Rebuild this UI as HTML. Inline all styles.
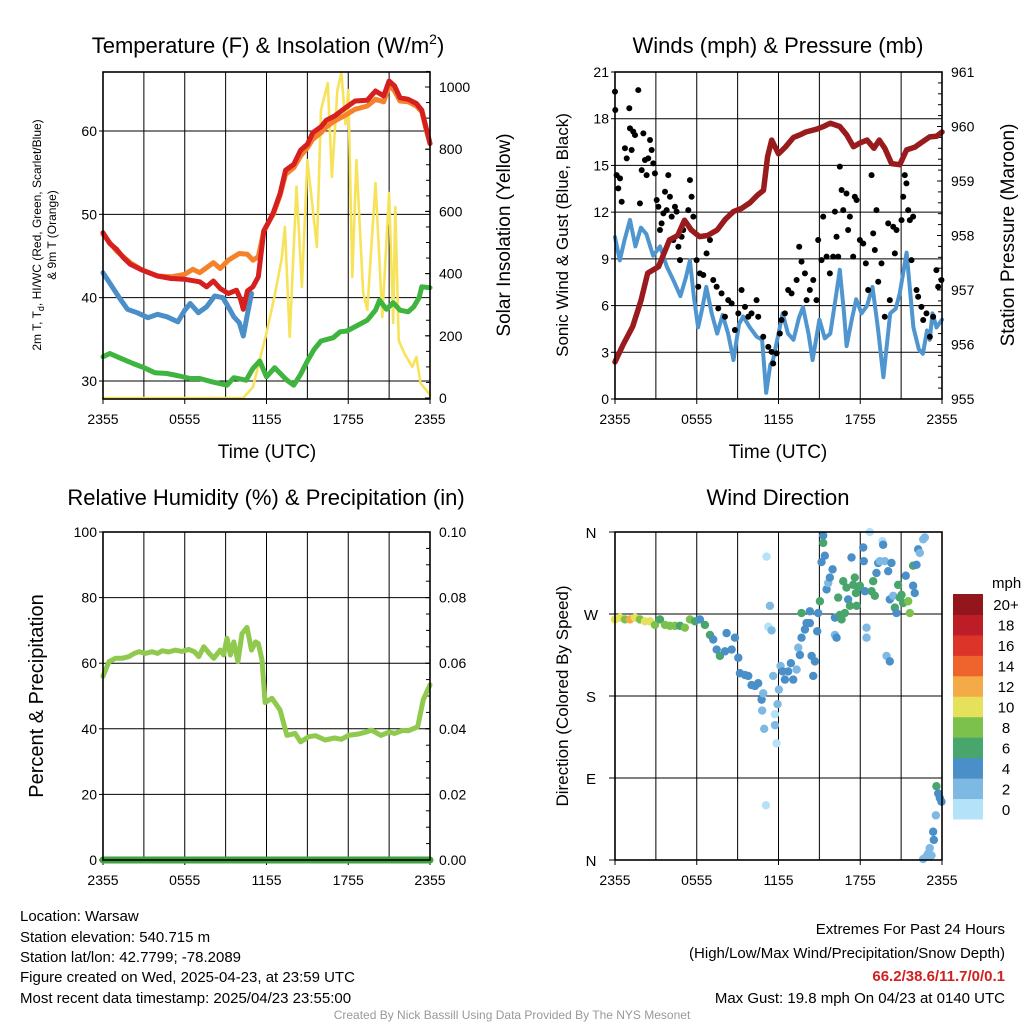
<!DOCTYPE html>
<html><head><meta charset="utf-8"><style>
html,body{margin:0;padding:0;background:#fff;}
svg{display:block;font-family:"Liberation Sans",Arial,sans-serif;}
</style></head><body>
<svg id="chart" width="1024" height="1024" viewBox="0 0 1024 1024">
<rect width="1024" height="1024" fill="#fff"/>
<g id="g"></g>
<text x="268" y="53" font-size="22" text-anchor="middle">Temperature (F) &amp; Insolation (W/m<tspan font-size="14" dy="-9">2</tspan><tspan dy="9">)</tspan></text>
<text x="778" y="53" font-size="22" text-anchor="middle">Winds (mph) &amp; Pressure (mb)</text>
<text x="266" y="505" font-size="22" text-anchor="middle">Relative Humidity (%) &amp; Precipitation (in)</text>
<text x="778" y="505" font-size="22" text-anchor="middle">Wind Direction</text>
<text transform="translate(41,235) rotate(-90)" font-size="12" text-anchor="middle">2m T, T<tspan font-size="9" dy="3">d</tspan><tspan dy="-3">, HI/WC (Red, Green, Scarlet/Blue)</tspan></text>
<text transform="translate(56,235) rotate(-90)" font-size="12" text-anchor="middle">&amp; 9m T (Orange)</text>
<text transform="translate(510,235) rotate(-90)" font-size="19" text-anchor="middle">Solar Insolation (Yellow)</text>
<text transform="translate(568,235) rotate(-90)" font-size="17" text-anchor="middle">Sonic Wind &amp; Gust (Blue, Black)</text>
<text transform="translate(1014,235) rotate(-90)" font-size="19" text-anchor="middle">Station Pressure (Maroon)</text>
<text transform="translate(43,696) rotate(-90)" font-size="20" text-anchor="middle">Percent &amp; Precipitation</text>
<text transform="translate(568,696) rotate(-90)" font-size="17" text-anchor="middle">Direction (Colored By Speed)</text>
<text x="267" y="458" font-size="19" text-anchor="middle">Time (UTC)</text>
<text x="778" y="458" font-size="19" text-anchor="middle">Time (UTC)</text>
<text x="992" y="588" font-size="15" text-anchor="start">mph</text>
<g font-size="15">
<text x="20" y="921">Location: Warsaw</text>
<text x="20" y="942">Station elevation: 540.715 m</text>
<text x="20" y="962">Station lat/lon: 42.7799; -78.2089</text>
<text x="20" y="982">Figure created on Wed, 2025-04-23, at 23:59 UTC</text>
<text x="20" y="1003">Most recent data timestamp: 2025/04/23 23:55:00</text>
</g>
<g font-size="15" text-anchor="end">
<text x="1005" y="934">Extremes For Past 24 Hours</text>
<text x="1005" y="958">(High/Low/Max Wind/Precipitation/Snow Depth)</text>
<text x="1005" y="981" fill="#d12020" font-weight="bold">66.2/38.6/11.7/0/0.1</text>
<text x="1005" y="1003">Max Gust: 19.8 mph On 04/23 at 0140 UTC</text>
</g>
<text x="512" y="1019" font-size="12" fill="#999" text-anchor="middle">Created By Nick Bassill Using Data Provided By The NYS Mesonet</text>
</svg>
<script>
// ---- Temperature panel data (hours since 2355 UTC) ----
const redT=[0,0.5,1,1.5,2,2.9,4,5,6,7.1,7.6,8.1,8.6,9.2,9.8,10.1,10.3,10.6,11,11.4,11.8,12.2,12.5,13,13.4,14,14.5,15,15.4,16,16.4,17,17.9,18.5,19.4,20,20.6,21,21.4,21.8,22.4,23,23.4,23.7,24];
const redV=[47.8,46.5,45.8,44.8,44,43.3,42.6,42.3,42.2,41.9,41.3,42.0,41.1,40.5,40.9,39.8,38.6,40.8,41.3,42.5,48,49.2,50.2,52.5,55.3,56,57.7,58.4,59.8,60.5,61.3,61.8,62.9,63.6,63.7,64.8,64.2,66,65.4,64,63.8,63.3,62.5,60.5,58.5];
const orangeT=[0,1,2,2.9,4,5,6,6.6,7.1,7.6,8.1,8.6,9.2,10,10.6,11,11.4,11.8,12.2,12.5,13,13.4,14,14.5,15,15.4,16,16.4,17,17.9,18.5,19.4,20,20.6,21,21.4,21.8,22.4,23,23.4,23.7,24];
const orangeV=[47.6,45.6,44.2,43.3,42.6,42.5,42.8,43.4,43,43.6,44.2,43.5,44.5,45.3,45.2,44.5,44.9,48,49.2,50,52.3,54.8,55.6,57,58,59,59.8,60.5,61.2,62,62.6,63,63.8,63.5,65.5,64.8,63.6,63.5,63,62.3,60.3,58.5];
const blueT=[0,0.6,1.2,1.8,2.5,3.3,4,4.7,5.5,6,6.4,7,7.6,8.2,8.8,9.3,9.6,10,10.3,10.6,10.9];
const blueV=[43,41.5,40,38.6,38.2,37.6,38,37.7,37.1,38.5,39.3,38.2,38.9,40.2,40,38.6,37.7,37,35.4,38,40.5];
const greenT=[0,0.5,1.2,2.2,3,3.8,4.7,5.6,6.4,7.1,8,9.1,9.6,10.5,11,11.5,12,12.6,13.5,14,14.5,15,15.5,16,16.9,17.4,17.9,18.6,19.4,20,20.3,20.8,21.3,21.8,22.4,22.8,23.2,23.4,24];
const greenV=[32.9,33.3,32.8,32.1,31.6,31,30.9,30.6,30.3,30.3,29.9,29.5,30.4,30.1,31.5,32.4,30.5,31.6,30.1,29.5,30.8,32.4,33.8,34.8,35.2,35.9,36,36.6,37.3,38.5,39.7,38.6,39.4,38.5,38.3,38.9,40,41.3,41.2];
const solarT=[0,10.3,11,12,12.6,13.1,13.35,13.7,14.2,14.6,15,15.7,16,16.5,16.8,17.2,17.5,17.8,18,18.3,18.6,19.1,19.4,20,20.5,21,21.3,21.45,21.7,22.1,22.7,23,23.3,24];
const solarV=[0,0,35,209,330,444,550,196,680,357,765,486,926,1013,711,990,1045,880,990,389,765,338,283,691,260,659,241,614,186,145,100,132,48,10];
// ---- Wind panel data ----
const pressT=[0,0.6,1.3,1.9,2.4,3.2,4,4.6,5.1,5.6,6.2,6.8,7.5,8.1,8.7,9.3,9.9,10.5,10.9,11.2,11.5,12,12.5,13.1,13.6,14,14.8,15.3,15.8,16.5,17,17.5,18,18.5,19,19.4,19.8,20.3,20.9,21.4,22,22.4,23.1,23.6,24];
const pressV=[955.68,956.0,956.33,956.8,957.31,957.43,957.92,958.0,958.28,958.1,957.98,958.0,958.1,958.3,958.44,958.5,958.6,958.75,958.83,959.45,959.75,959.5,959.62,959.8,959.85,959.9,959.95,960.0,960.06,960.0,959.85,959.63,959.7,959.75,959.6,959.75,959.6,959.32,959.3,959.57,959.62,959.69,959.81,959.82,959.9];
const windT=[0,0.35,0.7,1.1,1.5,1.9,2.3,2.8,3.3,3.8,4.3,4.8,5.2,5.5,5.8,6.1,6.4,6.7,7.1,7.5,7.9,8.3,8.7,9.1,9.4,9.9,10.4,10.8,11.1,11.4,11.6,12,12.3,12.7,13.1,13.5,13.8,14.2,14.5,15,15.4,15.8,16.2,16.5,16.8,17,17.4,17.7,18.1,18.5,18.9,19.3,19.7,20.2,20.6,20.9,21.4,21.9,22.3,22.6,22.9,23.1,23.3,23.6,24];
const windV=[10.4,8.9,10.2,11.5,9.8,11,10.6,9.2,9.8,8.5,7.6,6.6,7.8,8.9,6.5,4.6,5.8,7.2,5.5,4.2,5.4,4.2,2.5,4.8,5.3,4.6,4,3.8,0.4,2.2,2.5,4.2,5.5,4.2,3.8,5.2,5.9,4.2,2.5,5.1,3.9,4.2,6.5,8.3,5.6,3.4,5.2,6.4,5.5,6,7.2,4.5,1.4,5.5,5.8,6.8,9.4,4.6,3.2,2.9,4.4,3.8,5.5,4.6,5.1];
const gustT=[0,0.02,0.12,0.24,0.37,0.49,0.73,0.86,1.05,1.1,1.22,1.34,1.47,1.71,1.83,1.96,2.08,2.2,2.32,2.44,2.57,2.69,2.81,2.93,3.06,3.18,3.3,3.42,3.55,3.67,3.79,3.91,4.03,4.16,4.28,4.4,4.52,4.65,4.77,4.89,5.01,5.38,5.5,5.62,5.75,5.99,6.11,6.23,6.48,6.72,6.97,7.21,7.46,7.58,7.82,8.07,8.31,8.56,8.8,9.05,9.29,9.54,9.78,10.02,10.39,10.51,10.88,11.25,11.49,11.61,11.86,12.1,12.22,12.47,12.71,12.96,13.33,13.52,13.69,13.94,14.06,14.3,14.55,14.79,14.91,15.16,15.28,15.53,15.77,16.01,16.14,16.26,16.38,16.5,16.63,16.75,16.99,17.11,17.24,17.48,17.6,17.73,17.97,18.22,18.41,18.58,18.83,18.95,19.07,19.19,19.32,19.56,19.8,20.05,20.17,20.42,20.54,20.66,21.03,21.15,21.27,21.39,21.52,21.64,21.76,21.88,22.13,22.25,22.49,22.62,22.86,23.11,23.35,23.59,23.72,23.96];
const gustV=[19.74,18.56,14.38,13.53,14.17,12.67,16.1,15.45,18.67,17.38,15.99,17.17,16.95,19.84,12.56,14.7,17.06,15.35,14.38,15.45,16.63,15.99,15.13,14.49,12.78,12.35,10.85,11.28,11.92,13.31,12.13,14.38,12.99,11.71,10.21,12.35,12.03,9.78,8.92,10.42,10.85,12.13,14.06,12.99,11.71,8.92,7.21,8.07,7.96,9.35,10.21,7.64,7.21,5.82,6.78,5.28,6.35,6.14,4.43,5.5,7,5.92,5.28,5.5,6.35,5.28,4,3.35,3.03,2.28,2.93,4.21,5.07,5.5,7,6.78,7.64,9.78,8.82,8.07,6.35,7,7.64,6.35,10.21,8.92,11.71,9.14,8.07,9.14,12.03,10.42,9.14,14.92,13.42,12.13,13.2,10.85,11.71,9.14,12.99,12.78,10.21,9.99,8.71,7,14.38,10.64,9.57,12.13,7.53,8.71,5.28,11.28,6.35,11.06,9.35,10.85,11.49,12.99,14.38,13.85,12.13,11.49,8.92,11.71,7,6.57,5.92,5.07,5.5,4,5.28,8.28,7.21,7.64];
// ---- Humidity panel data ----
const rhT=[0,0.44,0.93,1.4,1.9,2.3,2.64,3.1,3.6,4,4.35,4.8,5.3,5.8,6.3,6.7,7.03,7.4,7.8,8.13,8.6,8.85,9.1,9.35,9.6,9.9,10.2,10.57,10.9,11.2,11.4,11.67,11.9,12.4,13,13.5,14.1,14.5,15.1,15.6,16.3,17,17.5,18,18.75,19.3,19.7,20.4,21,21.4,22,22.4,23.1,23.5,24];
const rhV=[56,60.5,61.5,61.5,62,63,63.5,63,63.5,63,63.8,63.4,64,63.6,64.2,63.5,62,65,63,61.5,64,62.5,67.6,62.5,66.5,60.5,69,70.9,64,66.5,66,61,48,49.3,45.7,38,38.6,36,37.6,37.9,36.6,37.2,36.8,38,38.4,39,39.6,38,39,38.6,39.5,39.4,40.6,48.8,53.4];
const precipT=[0,24];
const precipV=[0,0];
// ---- Wind direction data ----
const dirT=[0,0.37,0.73,1.1,1.47,1.83,2.2,2.57,2.93,3.3,3.67,4.03,4.4,4.77,5.13,5.5,5.87,6.23,6.6,6.97,7.21,7.46,7.7,8.07,8.19,8.56,8.8,9.05,9.17,9.54,9.78,10.02,10.27,10.51,10.76,10.88,10.8,10.95,11.12,11.37,11.25,11.49,11.08,11.61,11.74,11.74,11.86,11.93,12.03,12.15,12.3,12.47,12.71,12.91,13.08,13.33,13.45,13.57,13.69,13.69,13.94,14.06,14.3,14.3,14.43,14.55,14.67,14.84,14.91,15.04,15.16,15.28,15.28,15.4,15.53,15.65,15.77,15.97,16.14,16.14,16.26,16.38,16.5,16.63,16.75,16.87,16.99,17.11,17.24,17.36,17.48,17.6,17.68,17.73,17.85,17.97,18.22,18.26,18.34,18.46,18.46,18.7,18.83,18.95,19.07,19.19,19.32,19.44,19.63,19.68,19.8,19.93,20.17,20.05,20.29,20.17,20.42,20.54,20.66,20.78,20.9,21.03,21.15,21.34,21.52,21.64,21.88,22.0,21.88,22.13,22.25,22.37,22.62,22.74,23.59,23.72,23.84,23.96,23.55,23.35,23.4,23.1,22.98,22.86,22.62,23.23];
const dirV=[264,266,264,264,266,264,262,262,258,264,258,257,257,257,255,264,262,264,258,247,242,231,224,229,249,231,244,222,205,203,202,192,191,194,176,183,164,144,333,279,256,252,60,202,160,148,128,171,187,213,207,198,207,216,198,209,233,225,244,271,253,260,273,260,224,202,218,251,271,284,327,356,348,334,297,304,310,319,266,247,244,288,269,264,306,271,299,286,279,332,302,310,293,279,299,301,343,328,295,255,244,360,295,306,290,315,326,328,350,346,328,224,218,317,326,286,290,277,271,302,288,291,282,312,284,271,301,293,323,324,341,337,352,354,81,73,68,64,49,31,22,13,7,4,1,5];
const dirS=[10,10,9,12,10,9,10,10,9,7,8,8,8,7,8,8,6,5,6,6,4,4,6,4,4,4,4,4,4,4,4,4,4,4,4,2,2,2,1,2,1,2,1,2,1,2,1,2,2,2,4,4,4,4,4,2,2,4,4,6,4,4,4,4,4,4,4,4,4,6,4,4,6,4,4,2,4,4,4,2,4,6,6,6,6,6,6,4,6,4,6,6,6,6,6,6,4,4,4,2,2,1,6,6,6,4,4,2,1,4,2,2,4,4,4,4,2,6,4,6,6,6,6,4,8,8,4,4,6,4,4,2,2,2,6,4,4,4,2,4,4,2,2,2,2,2];
const speedBins=["0","2","4","6","8","10","12","14","16","18","20+"];
const speedColors=["#b4e2f8","#7db9e3","#4a8fc7","#48a56c","#7cc14b","#e6e15a","#f5aa48","#ef632d","#dc3429","#bd1d26","#92161b"];
const xTickLabels=["2355","0555","1155","1755","2355"];
const tempTicks=[30,40,50,60];
const solarTicks=[0,200,400,600,800,1000];
const windTicks=[0,3,6,9,12,15,18,21];
const pressTicks=[955,956,957,958,959,960,961];
const rhTicks=[0,20,40,60,80,100];
const precipTicks=["0.00","0.02","0.04","0.06","0.08","0.10"];
const dirTicks=[0,90,180,270,360];
const dirLabels=["N","E","S","W","N"];

const NS="http://www.w3.org/2000/svg";
const G=document.getElementById('g');
function mk(tag,attrs,parent){const e=document.createElementNS(NS,tag);for(const k in attrs)e.setAttribute(k,attrs[k]);(parent||G).appendChild(e);return e;}
function lin(d0,d1,r0,r1){return v=>r0+(v-d0)*(r1-r0)/(d1-d0);}

function panel(L,R,T,B,name){
  const x=lin(0,24,L,R);
  const grp=mk('g',{});
  
  
  for(let h=3;h<24;h+=3){
    const l=mk('line',{x1:x(h),x2:x(h),y1:T,y2:B,stroke:'#000','stroke-width':1},grp);
    
    
  }
  for(let i=0;i<xTickLabels.length;i++){
    const h=i*6;
    const tk=mk('line',{x1:x(h),x2:x(h),y1:B,y2:B+5,stroke:'#000'},grp);
    
    
    const t=mk('text',{x:x(h),y:B+25,'font-size':14,'text-anchor':'middle'},grp);
    t.textContent=xTickLabels[i];
    
    
  }
  return {x,grp};
}
function hgrid(p,L,R,y,vals,labels,side,grid){
  vals.forEach((v,i)=>{
    if(grid){const l=mk('line',{x1:L,x2:R,y1:y(v),y2:y(v),stroke:'#000','stroke-width':1},p.grp);
      
      }
    const tx=side==='left'?L-6:R+9;
    const tk=mk('line',{x1:side==='left'?L-4:R-5,x2:side==='left'?L:R,y1:y(v),y2:y(v),stroke:'#000'},p.grp);
    
    
    const t=mk('text',{x:tx,y:y(v)+5,'font-size':14,'text-anchor':side==='left'?'end':'start'},p.grp);
    t.textContent=labels?labels[i]:v;
    
    
  });
}
function minor(p,R,y,a,b,step){
  for(let v=a;v<=b+1e-9;v+=step){const l=mk('line',{x1:R-4,x2:R,y1:y(v),y2:y(v),stroke:'#000'},p.grp);
    
    }
}
function line(p,ts,vs,y,color,w,name){
  const d=ts.map((t,i)=>(i?'L':'M')+p.x(t).toFixed(1)+','+y(vs[i]).toFixed(1)).join('');
  const e=mk('path',{d:d,fill:'none',stroke:color,'stroke-width':w,'stroke-linejoin':'round','stroke-linecap':'round'},p.grp);
  
  
}
function frame(p,L,R,T,B){
  const r=mk('rect',{x:L,y:T,width:R-L,height:B-T,fill:'none',stroke:'#000','stroke-width':1.6},p.grp);
  
  
}

// Panel 1
(function(){
  const L=103,R=430,T=72,B=399;
  const p=panel(L,R,T,B,'temperature-panel');
  const y=lin(30,60,381,131), ys=lin(0,1000,398,87);
  hgrid(p,L,R,y,tempTicks,null,'left',true);
  hgrid(p,L,R,ys,solarTicks,null,'right',false);
  minor(p,R,ys,0,1050,50);
  line(p,solarT,solarV,ys,'#f7e35a',2.6,'solar-line');
  line(p,greenT,greenV,y,'#3fb43f',5,'dewpoint-line');
  line(p,blueT,blueV,y,'#4a8fc8',5,'heat-index-line');
  line(p,orangeT,orangeV,y,'#f5822b',5,'temp-9m-line');
  line(p,redT,redV,y,'#d62020',5,'temp-2m-line');
  frame(p,L,R,T,B);
})();
// Panel 2
(function(){
  const L=615,R=942,T=72,B=399;
  const p=panel(L,R,T,B,'wind-panel');
  const y=lin(0,21,399,72), yp=lin(955,961,399,72);
  hgrid(p,L,R,y,windTicks,null,'left',true);
  hgrid(p,L,R,yp,pressTicks,null,'right',false);
  minor(p,R,yp,955,961,0.2);
  line(p,windT,windV,y,'#4f95cf',4,'wind-speed-line');
  gustT.forEach((t,i)=>{const c=mk('circle',{cx:p.x(t),cy:y(gustV[i]),r:3,fill:'#000'},p.grp);
    
    });
  line(p,pressT,pressV,yp,'#9a1b1d',5.5,'pressure-line');
  frame(p,L,R,T,B);
})();
// Panel 3
(function(){
  const L=103,R=430,T=532,B=860;
  const p=panel(L,R,T,B,'humidity-panel');
  const y=lin(0,100,860,532), yq=lin(0,0.1,860,532);
  hgrid(p,L,R,y,rhTicks,null,'left',true);
  hgrid(p,L,R,y,rhTicks,precipTicks,'right',false);
  minor(p,R,y,0,100,5);
  line(p,rhT,rhV,y,'#8fc94d',5,'humidity-line');
  line(p,precipT,precipV,yq,'#3ea33e',7,'precip-line');
  frame(p,L,R,T,B);
})();
// Panel 4
(function(){
  const L=615,R=942,T=532,B=860;
  const p=panel(L,R,T,B,'direction-panel');
  const y=lin(0,360,860,532);
  dirTicks.forEach((v,i)=>{
    const l=mk('line',{x1:L-6,x2:R,y1:y(v),y2:y(v),stroke:'#000'},p.grp);
    
    
    const t=mk('text',{x:591,y:y(v)+6,'font-size':15,'text-anchor':'middle'},p.grp);
    t.textContent=dirLabels[i];
    
    
  });
  dirT.forEach((t,i)=>{
    const bin=Math.min(10,Math.floor(dirS[i]/2));
    const c=mk('circle',{cx:p.x(t),cy:y(dirV[i]),r:4.2,fill:speedColors[bin]},p.grp);
    
    
  });
  frame(p,L,R,T,B);
  const cbT=594,cbB=819,h=(cbB-cbT)/speedBins.length;
  speedBins.forEach((lab,i)=>{
    const yy=cbB-(i+1)*h;
    const r=mk('rect',{x:953,y:yy,width:30,height:h+0.5,fill:speedColors[i]},p.grp);
    
    
    const t=mk('text',{x:1006,y:yy+h/2+6,'font-size':15,'text-anchor':'middle'},p.grp);
    t.textContent=lab;
    
    
  });
})();
</script>
</body></html>
